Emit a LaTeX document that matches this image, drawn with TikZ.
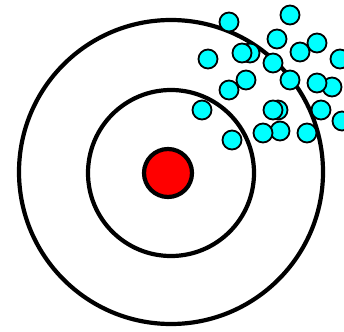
\documentclass[tikz,border=0pt]{standalone}
\definecolor{shotcyan}{RGB}{0,255,255}
\definecolor{eyered}{RGB}{255,0,0}

\begin{document}
\begin{tikzpicture}[
    x=1pt,
    y=-1pt
]

% 1. Frame of the picture
\useasboundingbox (0, 0) rectangle (344, 331);

% 2. Target rings
\draw[line width=4.2pt, draw=black] (171, 172) circle (152);
\draw[line width=4.2pt, draw=black] (171, 173) circle (83);

% 3. Bullseye
\filldraw[fill=eyered, draw=black, line width=4.2pt] (168, 173) circle (24);

% 4. Shots (cyan markers)
\foreach \x/\y in {229/22, 290/15, 277/39, 317/43, 300/52, 208/59,
    250/53, 242/53, 273/63, 340/59, 246/80, 229/90, 290/80,
    332/87, 317/83, 202/110, 278/110, 273/110, 321/110, 342/121,
    232/140, 280/131, 263/133, 307/133} {
    \filldraw[fill=shotcyan, draw=black, line width=1.8pt] (\x, \y) circle (9.5);
}

\end{tikzpicture}
\end{document}
